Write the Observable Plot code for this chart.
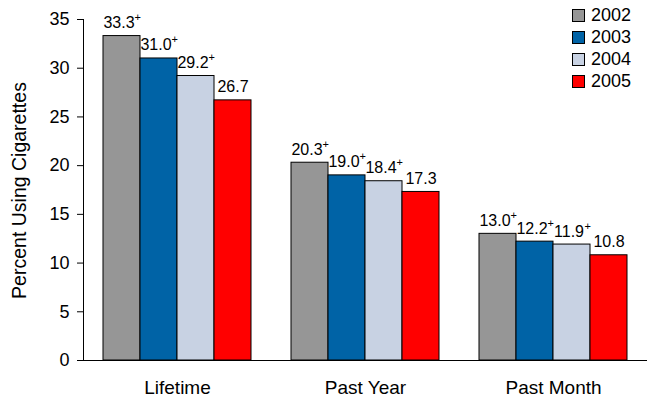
<!DOCTYPE html>
<html>
<head>
<meta charset="utf-8">
<script src="https://cdn.jsdelivr.net/npm/d3@7"></script>
<script src="https://cdn.jsdelivr.net/npm/@observablehq/plot@0.6"></script>
<style>
  body { margin: 0; background: #fff; font-family: "Liberation Sans", Arial, sans-serif; }
  #wrap { position: relative; width: 656px; height: 406px; }
  .legend { position: absolute; left: 572px; top: 5px; font-size: 18px; color: #000; }
  .legend .row { display: flex; align-items: center; height: 21.8px; }
  .legend .sw { width: 11px; height: 11px; border: 1px solid #000; margin-right: 6px; }
  #wrap svg g[aria-label="y-axis tick label"] { font-size: 18px; }
  #wrap svg g[aria-label="fx-axis tick label"] { font-size: 19px; }
</style>
</head>
<body>
<div id="wrap"></div>
<script>
const categories = ["Lifetime", "Past Year", "Past Month"];
const years = ["2002", "2003", "2004", "2005"];
const values2002 = [33.3, 20.3, 13.0];
const values2003 = [31.0, 19.0, 12.2];
const values2004 = [29.2, 18.4, 11.9];
const values2005 = [26.7, 17.3, 10.8];
const significant = [true, true, true, false]; // "+" marker by year
const colors = ["#969696", "#0063A6", "#C8D2E3", "#FF0000"];
const yTicks = [0, 5, 10, 15, 20, 25, 30, 35];
const yTitle = "Percent Using Cigarettes";

const series = [values2002, values2003, values2004, values2005];
const data = [];
categories.forEach((c, i) => years.forEach((yr, j) => data.push({
  category: c, year: yr, value: series[j][i], label: series[j][i].toFixed(1), plus: significant[j]
})));

const W = 656, H = 406, ML = 82, MR = 8, MT = 19, MB = 46;
const font = '"Liberation Sans", Arial, sans-serif';

const chart = Plot.plot({
  width: W, height: H,
  marginLeft: ML, marginRight: MR, marginTop: MT, marginBottom: MB,
  style: { fontFamily: font, fontSize: "17px", color: "#000", background: "#fff", overflow: "visible" },
  fx: { domain: categories, padding: 0, label: null, axis: "bottom", tickSize: 0, tickPadding: 20 },
  x: { domain: years, paddingInner: 0, paddingOuter: 0.5, axis: null },
  y: { domain: [0, 35], ticks: yTicks, tickSize: 6, tickPadding: 8, line: true, label: null },
  color: { domain: years, range: colors },
  marks: [
    Plot.barY(data, { fx: "category", x: "year", y: "value", fill: "year", stroke: "#000", strokeWidth: 1 }),
    Plot.ruleY([0], { stroke: "#000", strokeWidth: 1.2 }),
    Plot.text(data.filter(d => d.plus), { fx: "category", x: "year", y: "value", text: "label",
      lineAnchor: "bottom", dy: -8, dx: -3, fontSize: 16, fill: "#000" }),
    Plot.text(data.filter(d => !d.plus), { fx: "category", x: "year", y: "value", text: "label",
      lineAnchor: "bottom", dy: -8, dx: 0, fontSize: 16, fill: "#000" }),
    Plot.text(data.filter(d => d.plus), { fx: "category", x: "year", y: "value", text: () => "+",
      textAnchor: "start", lineAnchor: "bottom", dy: -15, dx: 12.4, fontSize: 11, fill: "#000" })
  ]
});

const ys = chart.scale("y");
const svg = d3.select(chart.tagName.toLowerCase() === "svg" ? chart : chart.querySelector("svg"));

// rotated y-axis title, centred on the y range
const yMid = (ys.range[0] + ys.range[1]) / 2;
svg.append("text")
  .attr("transform", `translate(19,${yMid + 1}) rotate(-90)`)
  .attr("text-anchor", "middle")
  .attr("dy", "0.35em")
  .attr("font-family", font)
  .attr("font-size", 19.5)
  .attr("fill", "#000")
  .text(yTitle);

const wrap = document.getElementById("wrap");
wrap.appendChild(chart);

const legend = document.createElement("div");
legend.className = "legend";
years.forEach((yr, i) => {
  const row = document.createElement("div");
  row.className = "row";
  const sw = document.createElement("div");
  sw.className = "sw";
  sw.style.background = colors[i];
  const t = document.createElement("span");
  t.textContent = yr;
  row.appendChild(sw); row.appendChild(t);
  legend.appendChild(row);
});
wrap.appendChild(legend);
</script>
</body>
</html>
